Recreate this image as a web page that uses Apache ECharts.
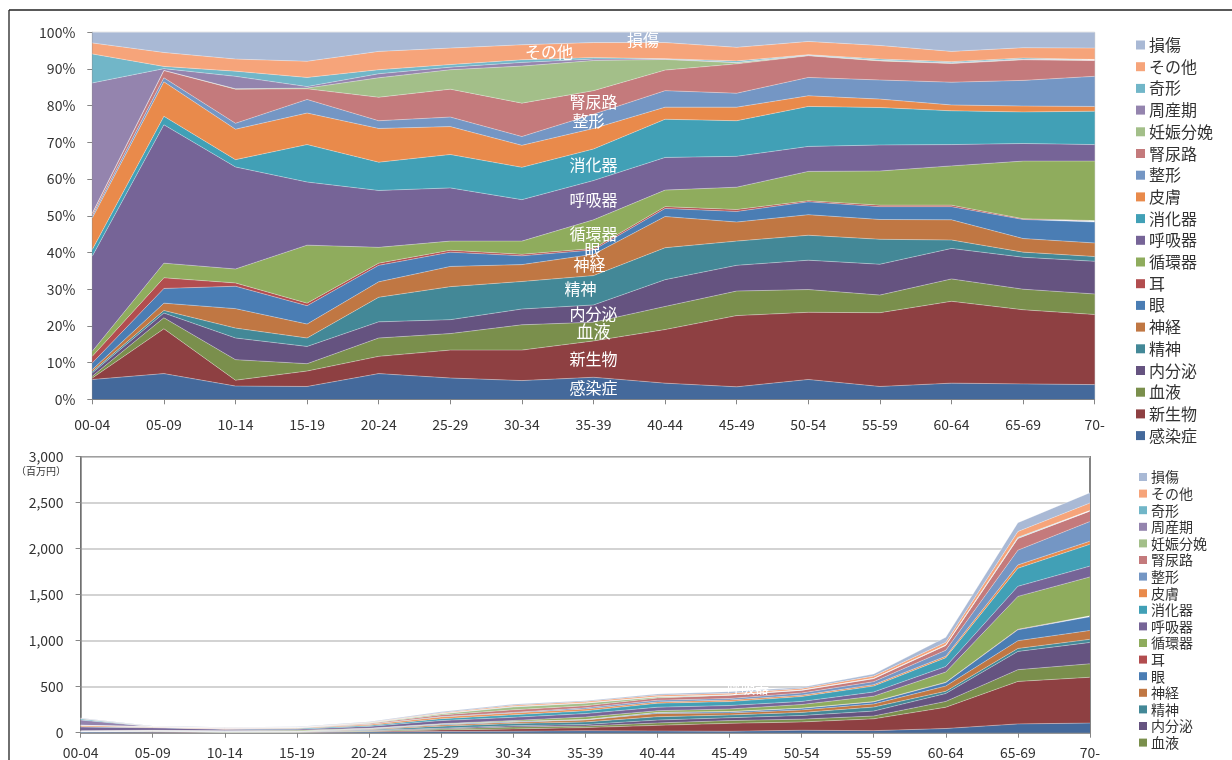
<!DOCTYPE html>
<html><head><meta charset="utf-8">
<script src="https://cdn.jsdelivr.net/npm/echarts@6/dist/echarts.min.js"></script>
<style>html,body{margin:0;padding:0;background:#fff}#c{width:1232px;height:760px}</style>
</head><body><div id="c"></div>
<script>
// ---- data ----
const categories = ['00-04','05-09','10-14','15-19','20-24','25-29','30-34','35-39','40-44','45-49','50-54','55-59','60-64','65-69','70-'];
const names = ['感染症','新生物','血液','内分泌','精神','神経','眼','耳','循環器','呼吸器','消化器','皮膚','整形','腎尿路','妊娠分娩','周産期','奇形','その他','損傷'];
// share of each disease group in each age band (%)
const infection     = [5.4, 7.0, 3.6, 3.5, 7.0, 5.8, 5.1, 6.0, 4.4, 3.4, 5.4, 3.5, 4.4, 4.2, 4.0];
const neoplasm      = [0.4, 12.2, 1.6, 4.2, 4.7, 7.6, 8.3, 9.9, 14.6, 19.4, 18.3, 20.1, 22.3, 20.2, 19.1];
const blood         = [0.5, 3.0, 5.6, 2.0, 5.0, 4.5, 6.9, 5.1, 6.3, 6.7, 6.2, 4.8, 6.1, 5.6, 5.6];
const endocrine     = [0.9, 1.3, 5.9, 4.7, 4.4, 3.8, 4.3, 4.7, 7.3, 7.0, 8.0, 8.4, 8.3, 8.7, 8.9];
const mental        = [0.4, 0.7, 2.7, 2.3, 6.7, 9.0, 7.5, 8.0, 8.7, 6.6, 6.8, 6.8, 2.3, 1.4, 1.3];
const nerve         = [0.5, 2.0, 5.3, 3.8, 4.2, 5.5, 4.6, 5.8, 8.5, 5.2, 5.6, 5.4, 5.5, 3.7, 3.7];
const eye           = [1.8, 4.0, 6.1, 5.0, 4.5, 3.9, 2.4, 1.2, 2.2, 2.9, 3.5, 3.5, 3.6, 5.2, 5.7];
const ear           = [1.8, 2.9, 0.9, 0.7, 0.6, 0.5, 0.4, 0.4, 0.5, 0.5, 0.3, 0.4, 0.4, 0.2, 0.4];
const circulatory   = [1.4, 4.0, 3.8, 15.8, 4.3, 2.5, 3.6, 7.8, 4.5, 6.1, 8.0, 9.3, 10.7, 15.7, 16.2];
const respiratory   = [25.9, 37.7, 27.8, 17.2, 15.5, 14.5, 11.3, 10.7, 8.9, 8.4, 6.8, 7.1, 5.8, 4.8, 4.5];
const digestive     = [1.8, 2.3, 2.0, 10.2, 7.7, 9.1, 8.8, 8.6, 10.4, 9.7, 10.9, 10.2, 9.2, 8.6, 9.1];
const skin          = [8.6, 9.4, 8.3, 8.6, 9.2, 7.6, 6.0, 5.6, 3.3, 3.7, 2.9, 2.3, 1.6, 1.6, 1.3];
const musculo       = [0.6, 1.1, 1.6, 3.7, 2.1, 2.6, 2.4, 3.9, 4.5, 3.8, 5.0, 5.2, 6.2, 7.0, 8.2];
const urinary       = [0.6, 2.0, 9.3, 2.9, 6.4, 7.6, 9.1, 6.4, 5.6, 8.0, 5.9, 5.2, 5.1, 5.6, 4.3];
const pregnancy     = [0.1, 0.0, 0.1, 0.2, 5.3, 5.3, 10.1, 8.2, 2.9, 0.3, 0.1, 0.1, 0.1, 0.1, 0.1];
const perinatal     = [35.5, 0.5, 3.4, 0.4, 1.1, 0.7, 1.0, 0.4, 0.1, 0.1, 0.1, 0.1, 0.1, 0.1, 0.1];
const congenital    = [7.9, 0.6, 1.4, 2.5, 1.1, 0.7, 0.7, 0.4, 0.1, 0.4, 0.1, 0.3, 0.3, 0.3, 0.1];
const other         = [3.0, 3.8, 3.3, 4.4, 5.0, 4.5, 4.1, 4.1, 4.4, 3.7, 3.6, 3.7, 2.8, 2.8, 3.1];
const injury        = [2.9, 5.5, 7.3, 7.9, 5.2, 4.3, 3.4, 2.8, 2.8, 4.1, 2.5, 3.6, 5.2, 4.2, 4.3];
// total cost per age band (百万円)
const totals = [160, 72, 58, 65, 120, 228, 308, 348, 420, 446, 493, 638, 1037, 2283, 2609];
const yTicksPct = [0, 100, 10];
const yTicksAbs = [0, 3000, 500];
// legend entries visible in the lower chart (the rest are cut off in the source)
const lowerLegendCount = 17;

const shareRows = [infection, neoplasm, blood, endocrine, mental, nerve, eye, ear, circulatory,
  respiratory, digestive, skin, musculo, urinary, pregnancy, perinatal, congenital, other, injury];

// ---- styles ----
const colors = ['#44699B','#8E4042','#7A8F4C','#655380','#438897','#C07743','#4A7DB4','#B24D4F','#8FAC5D',
  '#766497','#41A0B6','#E98A4B','#7496C4','#C47A7C','#A3BF89','#9484AE','#71B6C8','#F6A47A','#A9B9D5'];
const FONT = "'Noto Sans CJK JP','Noto Sans',sans-serif";
const AXIS = '#868686';
// in-chart series name labels: [name, category position, dx, dy, fontSize]
const labelSpecs = [
  ['感染症',7,0,0,16],['新生物',7,0,0,16],['血液',7,0,0,17],['内分泌',7,0,0,16],['精神',7,-13,-1,16],
  ['神経',7,-4,0,16],['眼',7,-1,-2,16],['循環器',7,0,0,16],['呼吸器',7,0,0,16],['消化器',7,0,0,16],
  ['整形',7,-5,0,16],['腎尿路',7,0,0,16],['その他',6.38,0,0,16],['損傷',7.69,0,2,16]
];

const chart = echarts.init(document.getElementById('c'), null, {renderer:'canvas'});
const series = [];
names.forEach((nm, k) => {
  const common = {
    type:'line', name:nm, symbol:'none', smooth:false,
    lineStyle:{width:0.6, color:'rgba(255,255,255,0.55)'},
    areaStyle:{color:colors[k], opacity:1},
    itemStyle:{color:colors[k]}, emphasis:{disabled:true}
  };
  series.push(Object.assign({}, common, {xAxisIndex:0, yAxisIndex:0, stack:'pct', data: shareRows[k]}));
  series.push(Object.assign({}, common, {xAxisIndex:1, yAxisIndex:1, stack:'abs',
    data: shareRows[k].map((v,i) => +(v * totals[i] / 100).toFixed(2))}));
});
const legendNames = names.slice().reverse();

const axisLabel = {fontSize:14, color:'#333', fontFamily:FONT};
chart.setOption({
  animation:false,
  backgroundColor:'#fff',
  textStyle:{fontFamily:FONT},
  grid:[
    {left:92.3, top:32.3, width:1002.4, height:367, show:true, borderColor:'#C8C8C8', borderWidth:1, containLabel:false},
    {left:80.6, top:456.7, width:1009.4, height:276, show:true, borderColor:'#333', borderWidth:1.2, containLabel:false}
  ],
  xAxis:[
    {type:'category', gridIndex:0, data:categories, boundaryGap:false,
     axisLine:{lineStyle:{color:AXIS}}, axisTick:{length:5, interval:0, lineStyle:{color:AXIS}},
     axisLabel:Object.assign({margin:18, interval:0}, axisLabel), splitLine:{show:false}},
    {type:'category', gridIndex:1, data:categories, boundaryGap:false,
     axisLine:{lineStyle:{color:AXIS, width:1.5}}, axisTick:{length:5, interval:0, lineStyle:{color:AXIS}},
     axisLabel:Object.assign({margin:13, interval:0}, axisLabel), splitLine:{show:false}}
  ],
  yAxis:[
    {type:'value', gridIndex:0, min:yTicksPct[0], max:yTicksPct[1], interval:yTicksPct[2],
     axisLine:{show:true, lineStyle:{color:AXIS}}, axisTick:{show:true, length:5, lineStyle:{color:AXIS}},
     splitLine:{show:false}, axisLabel:Object.assign({margin:17, formatter:'{value}%'}, axisLabel)},
    {type:'value', gridIndex:1, min:yTicksAbs[0], max:yTicksAbs[1], interval:yTicksAbs[2],
     axisLine:{show:true, lineStyle:{color:AXIS, width:1.5}}, axisTick:{show:true, length:5, lineStyle:{color:AXIS}},
     splitLine:{show:true, lineStyle:{color:'#C4C4C4', width:1.5}},
     axisLabel:Object.assign({margin:17, formatter:v => v.toLocaleString('en-US')}, axisLabel)}
  ],
  legend:[
    {data:legendNames, orient:'vertical', left:1136, top:37, height:420, padding:0, icon:'rect', itemWidth:9, itemHeight:9,
     itemGap:5.7, selectedMode:false, textStyle:{fontSize:16, lineHeight:16, color:'#333', fontFamily:FONT, padding:[0,0,0,-1]}},
    {data:legendNames.slice(0, lowerLegendCount), orient:'vertical', left:1139, top:470, height:400, padding:0, icon:'rect', itemWidth:8, itemHeight:8,
     itemGap:2.6, selectedMode:false, textStyle:{fontSize:14, lineHeight:14, color:'#333', fontFamily:FONT, padding:[0,0,0,-1]}}
  ],
  series:series
});

// in-chart labels placed at band middles through the axis scales
const labels = labelSpecs.map(([nm, pos, dx, dy, fs]) => {
  const k = names.indexOf(nm);
  const i0 = Math.floor(pos), t = pos - i0, i1 = Math.min(i0 + 1, categories.length - 1);
  const band = i => { let lo = 0; for (let s = 0; s < k; s++) lo += shareRows[s][i]; return lo + shareRows[k][i] / 2; };
  const mid = band(i0) * (1 - t) + band(i1) * t;
  const p0 = chart.convertToPixel({xAxisIndex:0, yAxisIndex:0}, [i0, mid]);
  const p1 = chart.convertToPixel({xAxisIndex:0, yAxisIndex:0}, [i1, mid]);
  return {type:'text', z:100, x:p0[0] * (1 - t) + p1[0] * t + dx, y:p0[1] + dy,
    style:{text:nm, fill:'#fff', fontSize:fs, fontFamily:FONT, align:'center', verticalAlign:'middle'}};
});

chart.setOption({graphic:[
  {type:'line', z:50, shape:{x1:9, y1:10, x2:1232, y2:10}, style:{stroke:'#222', lineWidth:1.3}},
  {type:'line', z:50, shape:{x1:9, y1:10, x2:9, y2:760}, style:{stroke:'#222', lineWidth:1.3}},
  {type:'text', z:50, x:41, y:471, style:{text:'（百万円）', fill:'#333', fontSize:10, fontFamily:FONT, align:'center', verticalAlign:'middle'}},
  {type:'text', z:100, x:748, y:688, style:{text:'呼吸器', fill:'#fff', fontSize:14, fontFamily:FONT, align:'center', verticalAlign:'middle'}}
].concat(labels)});
</script>
</body></html>
